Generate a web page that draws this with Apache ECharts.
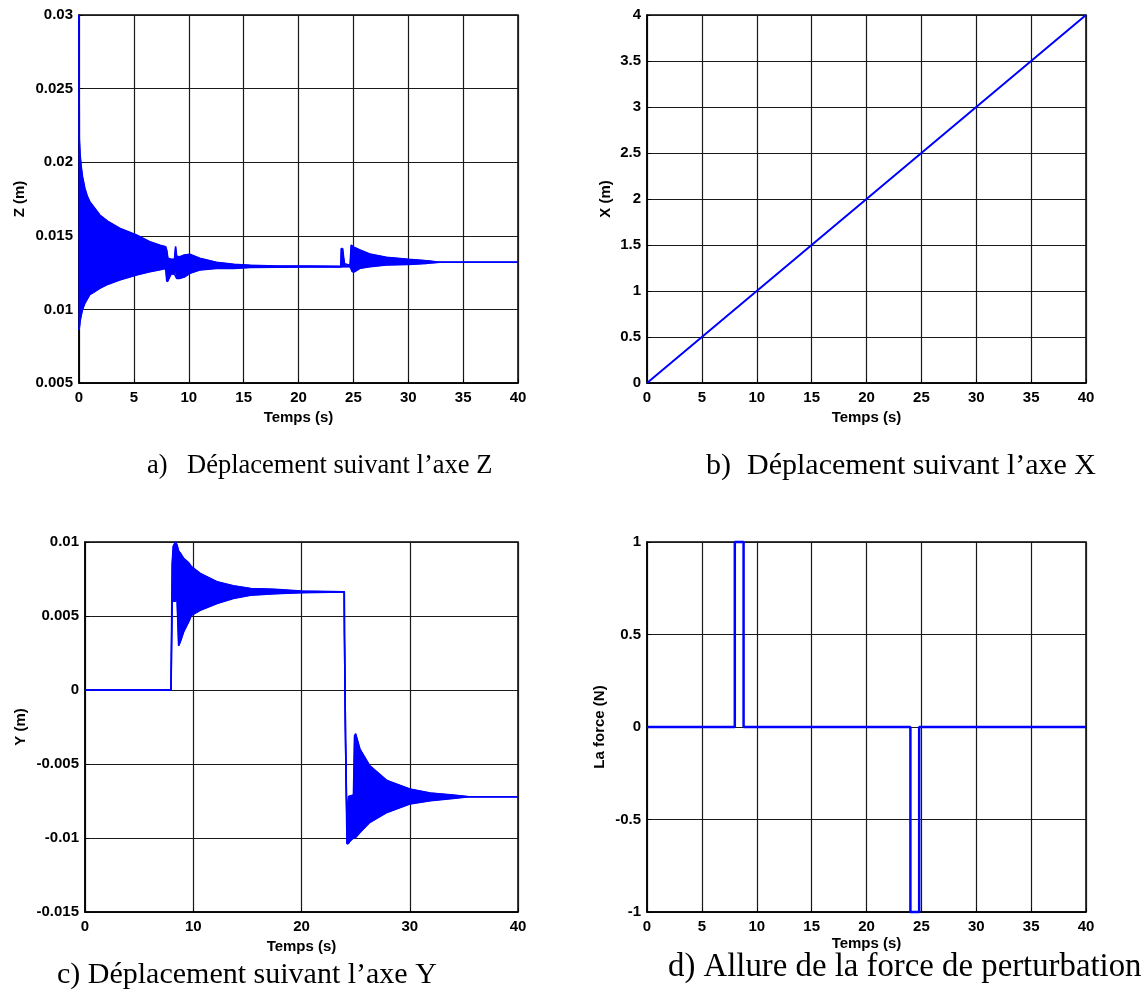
<!DOCTYPE html>
<html>
<head>
<meta charset="utf-8">
<script src="https://cdn.jsdelivr.net/npm/echarts@6/dist/echarts.min.js"></script>
<style>
  html, body { margin: 0; padding: 0; background: #fff; }
  #chart { width: 1145px; height: 995px; }
</style>
</head>
<body>
<div id="chart"></div>
<script>
// ---- a) Z displacement: oscillation envelope (upper / lower) vs time ----
const zTime  = [0, 0.03, 0.1, 0.2, 0.32, 0.53, 0.75, 0.98, 1.4, 1.9, 2.6, 3.7, 5.24, 6.45, 7.4, 7.9, 8.0, 8.1, 8.4, 8.7, 8.8, 8.9, 9.2, 9.6, 10.1, 11.0, 12.5, 14.1, 15.6, 18, 21, 23.85, 23.9, 24.05, 24.2, 24.3, 24.7, 24.8, 24.9, 25.1, 25.6, 26.5, 28.0, 30.0, 31.7, 32.9, 34, 40];
const zUpper = [0.03, 0.02162, 0.0205, 0.0197, 0.01902, 0.01823, 0.0177, 0.01732, 0.0169, 0.01641, 0.0160, 0.01551, 0.01505, 0.0146, 0.01435, 0.01426, 0.0140, 0.01347, 0.0134, 0.0134, 0.01426, 0.0136, 0.01358, 0.0137, 0.01374, 0.01347, 0.0132, 0.01306, 0.0130, 0.01295, 0.01294, 0.01292, 0.01415, 0.01415, 0.0131, 0.0130, 0.0130, 0.01437, 0.0143, 0.0142, 0.01404, 0.01376, 0.01354, 0.0134, 0.01331, 0.0132, 0.0132, 0.0132];
const zLower = [0.0086, 0.0086, 0.0092, 0.0096, 0.0100, 0.01041, 0.0107, 0.0110, 0.0112, 0.01143, 0.0117, 0.0120, 0.01234, 0.01256, 0.0127, 0.0128, 0.0119, 0.01188, 0.0124, 0.0124, 0.0125, 0.0121, 0.01211, 0.0122, 0.01245, 0.01268, 0.01279, 0.01279, 0.01285, 0.01287, 0.01288, 0.01288, 0.0129, 0.0129, 0.0129, 0.0129, 0.0129, 0.0128, 0.01256, 0.01256, 0.01279, 0.0129, 0.01302, 0.01306, 0.01313, 0.0132, 0.0132, 0.0132];

// ---- b) X displacement vs time ----
const xTime  = [0, 5, 10, 15, 20, 25, 30, 35, 40];
const xValue = [0, 0.5, 1, 1.5, 2, 2.5, 3, 3.5, 4];

// ---- c) Y displacement: envelope vs time ----
const yTime  = [0, 7.95, 8.05, 8.15, 8.35, 8.5, 8.65, 8.8, 9.11, 9.57, 9.84, 10.65, 12.2, 13.7, 15.3, 17.5, 20, 23.95, 23.97, 24.07, 24.2, 24.35, 24.5, 24.8, 24.9, 25.0, 25.4, 26.3, 27.9, 30, 31.9, 34, 35.5, 40];
const yUpper = [0, 0, 0.0085, 0.0097, 0.0100, 0.0098, 0.0094, 0.0093, 0.0089, 0.0086, 0.00833, 0.00788, 0.00731, 0.00704, 0.00686, 0.0068, 0.00668, 0.00663, 0.0037, -0.0035, -0.0090, -0.0072, -0.00714, -0.0071, -0.0031, -0.00296, -0.0040, -0.00511, -0.00612, -0.00669, -0.00696, -0.0071, -0.00721, -0.00721];
const yLower = [0, 0, 0.0060, 0.0060, 0.0060, 0.0062, 0.0030, 0.00325, 0.00392, 0.0046, 0.00505, 0.00539, 0.00585, 0.00619, 0.00641, 0.0065, 0.00658, 0.00663, 0.0037, -0.0035, -0.0104, -0.0104, -0.0102, -0.0100, -0.0100, -0.00997, -0.00963, -0.00895, -0.00827, -0.0077, -0.00748, -0.00732, -0.00721, -0.00721];

// ---- d) disturbance force vs time ----
const fTime  = [0, 8, 8, 8.8, 8.8, 24, 24, 24.8, 24.8, 40];
const fValue = [0, 0, 1, 1, 0, 0, -1, -1, 0, 0];

// ---- tick settings ----
const zTicks = { min: 0.005, max: 0.03, interval: 0.005 };
const xTicks = { min: 0, max: 4, interval: 0.5 };
const yTicks = { min: -0.015, max: 0.01, interval: 0.005 };
const fTicks = { min: -1, max: 1, interval: 0.5 };

const BLUE = '#0000ff';
const labelFont = { color: '#000', fontWeight: 'bold', fontSize: 15, fontFamily: 'Liberation Sans, Arial, sans-serif' };

function pairs(t, v) { return t.map((x, i) => [x, v[i]]); }

function timeAxis(gridIndex, interval, nameGap) {
  return {
    gridIndex, type: 'value', min: 0, max: 40, interval,
    name: 'Temps (s)', nameLocation: 'middle', nameGap,
    nameTextStyle: labelFont,
    axisLine: { show: true, onZero: false, lineStyle: { color: '#000', width: 1.5 } },
    axisTick: { show: true, inside: true, length: 4, lineStyle: { color: '#000' } },
    axisLabel: Object.assign({ margin: 7 }, labelFont),
    splitLine: { show: true, lineStyle: { color: '#1a1a1a', width: 1.2 } }
  };
}

function valueAxis(gridIndex, ticks, name, nameGap) {
  return {
    gridIndex, type: 'value', min: ticks.min, max: ticks.max, interval: ticks.interval,
    name, nameLocation: 'middle', nameRotate: 90, nameGap,
    nameTextStyle: labelFont,
    axisLine: { show: true, onZero: false, lineStyle: { color: '#000', width: 1.5 } },
    axisTick: { show: true, inside: true, length: 4, lineStyle: { color: '#000' } },
    axisLabel: Object.assign({ margin: 6 }, labelFont),
    splitLine: { show: true, lineStyle: { color: '#1a1a1a', width: 1.2 } }
  };
}

// Envelope band: a filled polygon between the upper and lower edges
// (projected through the axes), plus both edges stroked as lines.
function band(idx, t, lo, hi) {
  return [
    {
      type: 'custom', xAxisIndex: idx, yAxisIndex: idx, z: 3,
      data: [[t[0], lo[0]]],
      renderItem: function (params, api) {
        const pts = [];
        for (let i = 0; i < t.length; i++) pts.push(api.coord([t[i], hi[i]]));
        for (let i = t.length - 1; i >= 0; i--) pts.push(api.coord([t[i], lo[i]]));
        return {
          type: 'polygon',
          shape: { points: pts },
          style: { fill: BLUE, stroke: BLUE, lineWidth: 1 }
        };
      }
    },
    {
      type: 'line', xAxisIndex: idx, yAxisIndex: idx, data: pairs(t, lo),
      symbol: 'none', lineStyle: { color: BLUE, width: 1.6 }, z: 4
    },
    {
      type: 'line', xAxisIndex: idx, yAxisIndex: idx, data: pairs(t, hi),
      symbol: 'none', lineStyle: { color: BLUE, width: 1.6 }, z: 4
    }
  ];
}

function caption(text, left, top, size) {
  return {
    type: 'text', left, top,
    style: { text, font: size + 'px "Liberation Serif", "Times New Roman", serif', fill: '#000' }
  };
}

const chart = echarts.init(document.getElementById('chart'), null, { renderer: 'canvas' });
chart.setOption({
  animation: false,
  backgroundColor: '#fff',
  grid: [
    { left: 79,  top: 15,  width: 439, height: 368, show: true, borderColor: '#000', borderWidth: 1.5 },
    { left: 647, top: 15,  width: 439, height: 368, show: true, borderColor: '#000', borderWidth: 1.5 },
    { left: 85,  top: 542, width: 433, height: 370, show: true, borderColor: '#000', borderWidth: 1.5 },
    { left: 647, top: 542, width: 439, height: 370, show: true, borderColor: '#000', borderWidth: 1.5 }
  ],
  xAxis: [
    timeAxis(0, 5, 27),
    timeAxis(1, 5, 27),
    timeAxis(2, 10, 27),
    timeAxis(3, 5, 24)
  ],
  yAxis: [
    valueAxis(0, zTicks, 'Z (m)', 52),
    valueAxis(1, xTicks, 'X (m)', 34),
    valueAxis(2, yTicks, 'Y (m)', 57),
    valueAxis(3, fTicks, 'La force (N)', 40)
  ],
  series: [
    ...band(0, zTime, zLower, zUpper),
    {
      type: 'line', xAxisIndex: 1, yAxisIndex: 1, data: pairs(xTime, xValue),
      symbol: 'none', lineStyle: { color: BLUE, width: 2 }
    },
    ...band(2, yTime, yLower, yUpper),
    {
      type: 'line', xAxisIndex: 3, yAxisIndex: 3, data: pairs(fTime, fValue),
      symbol: 'none', clip: false, lineStyle: { color: BLUE, width: 2.5 }
    }
  ],
  graphic: [
    caption('a)', 147, 453, 26.5),
    caption('Déplacement suivant l\u2019axe Z', 187, 453, 26.5),
    caption('b)', 706, 451, 30),
    caption('Déplacement suivant l\u2019axe X', 747, 451, 30),
    caption('c) Déplacement suivant l\u2019axe Y', 57, 960, 30),
    caption('d) Allure de la force de perturbation', 668, 951, 32.8)
  ]
});
</script>
</body>
</html>
